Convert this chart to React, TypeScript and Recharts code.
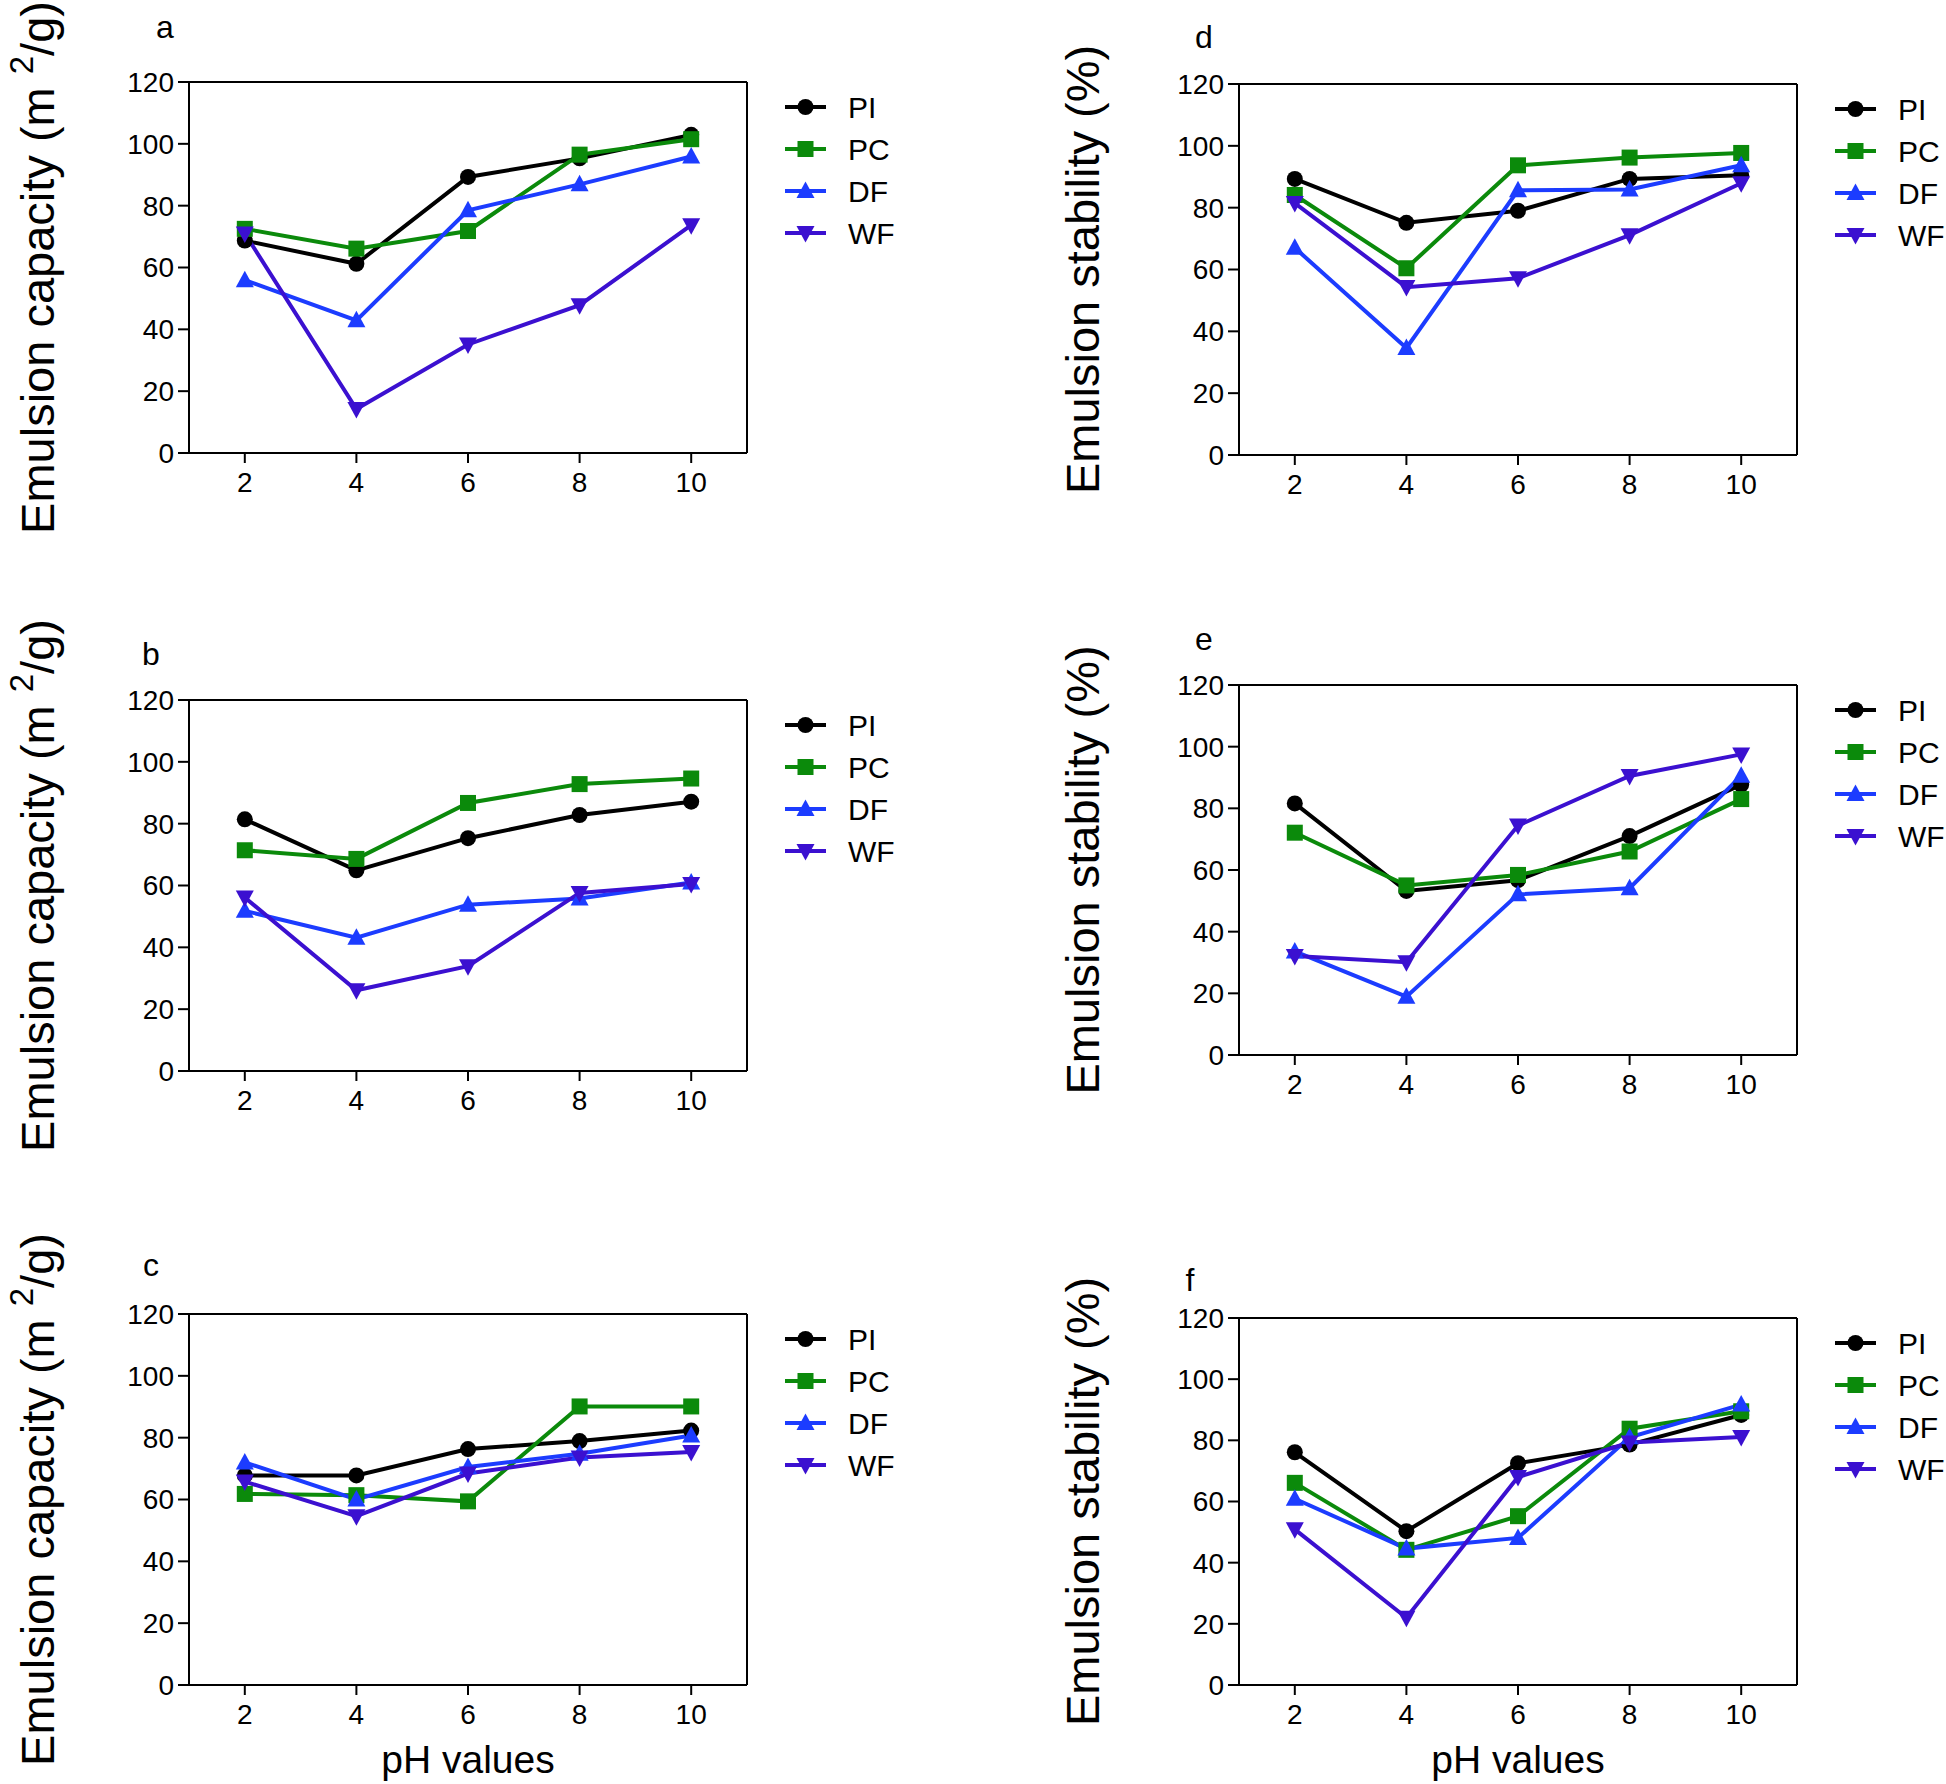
import React from "react";
import { LineChart, Line, XAxis, YAxis, ReferenceLine, Legend, Label } from "recharts";

const FONT = "'Liberation Sans', Arial, Helvetica, sans-serif";

const PH = [2, 4, 6, 8, 10];
const SERIES = ["PI", "PC", "DF", "WF"];
const COLORS: Record<string, string> = {
  PI: "#000000",
  PC: "#0b8a0b",
  DF: "#1c3cff",
  WF: "#3b10d0",
};
const SHAPES: Record<string, string> = { PI: "circle", PC: "square", DF: "up", WF: "down" };
const Y_TICKS = [0, 20, 40, 60, 80, 100, 120];

// emulsion capacity (m2/g)
const A_PI = [68.7, 61.2, 89.3, 95.3, 102.9];
const A_PC = [72.5, 66.1, 71.8, 96.5, 101.5];
const A_DF = [55.9, 42.9, 78.5, 86.9, 95.9];
const A_WF = [71.0, 14.2, 35.1, 47.8, 73.7];

const B_PI = [81.4, 64.9, 75.3, 82.8, 87.1];
const B_PC = [71.4, 68.6, 86.7, 92.8, 94.6];
const B_DF = [51.8, 43.1, 53.8, 55.8, 61.0];
const B_WF = [56.1, 26.1, 33.9, 57.6, 60.5];

const C_PI = [67.8, 67.8, 76.3, 78.9, 82.3];
const C_PC = [61.8, 61.4, 59.4, 90.1, 90.1];
const C_DF = [72.0, 60.0, 70.5, 74.8, 80.7];
const C_WF = [65.8, 54.6, 68.4, 73.6, 75.4];

// emulsion stability (%)
const D_PI = [89.3, 75.1, 79.0, 89.3, 90.5];
const D_PC = [84.1, 60.4, 93.7, 96.2, 97.7];
const D_DF = [67.0, 34.6, 85.6, 85.9, 93.7];
const D_WF = [81.5, 54.3, 57.2, 71.1, 87.9];

const E_PI = [81.6, 53.2, 56.7, 71.0, 87.7];
const E_PC = [72.1, 55.0, 58.4, 66.0, 83.0];
const E_DF = [33.6, 18.9, 52.1, 54.1, 90.6];
const E_WF = [32.1, 30.1, 74.4, 90.5, 97.5];

const F_PI = [76.1, 50.3, 72.5, 78.6, 88.3];
const F_PC = [66.1, 44.2, 55.2, 83.8, 89.5];
const F_DF = [60.9, 44.6, 48.1, 81.0, 91.7];
const F_WF = [50.9, 22.0, 68.0, 79.3, 81.1];

const makeRows = (pi: number[], pc: number[], df: number[], wf: number[]) =>
  PH.map((ph, i) => ({ ph, PI: pi[i], PC: pc[i], DF: df[i], WF: wf[i] }));

const PANELS = [
  { id: "a", kind: "cap", rows: makeRows(A_PI, A_PC, A_DF, A_WF), left: 0, top: 0, width: 950, plotH: 371, letter: [165, 27], titleX: 37, xTitle: false },
  { id: "b", kind: "cap", rows: makeRows(B_PI, B_PC, B_DF, B_WF), left: 0, top: 618, width: 950, plotH: 371, letter: [151, 36], titleX: 37, xTitle: false },
  { id: "c", kind: "cap", rows: makeRows(C_PI, C_PC, C_DF, C_WF), left: 0, top: 1232, width: 950, plotH: 371, letter: [151, 33], titleX: 37, xTitle: true },
  { id: "d", kind: "stab", rows: makeRows(D_PI, D_PC, D_DF, D_WF), left: 1050, top: 2, width: 896, plotH: 371, letter: [154, 35], titleX: 32, xTitle: false },
  { id: "e", kind: "stab", rows: makeRows(E_PI, E_PC, E_DF, E_WF), left: 1050, top: 603, width: 896, plotH: 370, letter: [154, 36], titleX: 32, xTitle: false },
  { id: "f", kind: "stab", rows: makeRows(F_PI, F_PC, F_DF, F_WF), left: 1050, top: 1236, width: 896, plotH: 367, letter: [140, 44], titleX: 32, xTitle: true },
];

const CHART_H = 552;
const TOP = 82;
const Y_AXIS_W = 189;
const PLOT_W = 558;
const LEGEND_W = 165;

function Marker({ shape, cx, cy, color }: { shape: string; cx: number; cy: number; color: string }) {
  if (shape === "circle") return <circle cx={cx} cy={cy} r={8} fill={color} />;
  if (shape === "square") return <rect x={cx - 8} y={cy - 8} width={16} height={16} fill={color} />;
  if (shape === "up")
    return <polygon points={`${cx},${cy - 9.5} ${cx - 9},${cy + 7} ${cx + 9},${cy + 7}`} fill={color} />;
  return <polygon points={`${cx},${cy + 9.5} ${cx - 9},${cy - 7} ${cx + 9},${cy - 7}`} fill={color} />;
}

const renderLegend = () => (
  <svg width={LEGEND_W} height={190} style={{ display: "block" }}>
    {SERIES.map((s, i) => {
      const y = 25 + 42 * i;
      return (
        <g key={s}>
          <line x1={0} x2={41} y1={y} y2={y} stroke={COLORS[s]} strokeWidth={4} />
          <Marker shape={SHAPES[s]} cx={20.5} cy={y} color={COLORS[s]} />
          <text x={63} y={y} dominantBaseline="central" fontSize={30} fontFamily={FONT} fill="#000">
            {s}
          </text>
        </g>
      );
    })}
  </svg>
);

function Panel({ p }: { p: (typeof PANELS)[number] }) {
  const bottom = CHART_H - TOP - p.plotH - 50;
  // the legend box width is added to the right offset by the chart itself
  const right = p.width - Y_AXIS_W - PLOT_W - LEGEND_W;

  const yTitle = (props: any) => {
    const vb = props.viewBox || { x: 0, y: TOP, width: Y_AXIS_W, height: p.plotH };
    const cx = vb.x + p.titleX;
    const cy = vb.y + vb.height / 2;
    return (
      <g>
        <text
          x={cx}
          y={cy}
          transform={`rotate(-90 ${cx} ${cy})`}
          textAnchor="middle"
          dominantBaseline="central"
          fontSize={47}
          fontFamily={FONT}
          fill="#000"
        >
          {p.kind === "cap" ? (
            <>
              Emulsion capacity (m <tspan dy={-16} fontSize={33}>2</tspan>
              <tspan dy={16}>/g)</tspan>
            </>
          ) : (
            "Emulsion stability (%)"
          )}
        </text>
        <text x={p.letter[0]} y={p.letter[1]} textAnchor="middle" dominantBaseline="central" fontSize={32} fontFamily={FONT} fill="#000">
          {p.id}
        </text>
      </g>
    );
  };

  const xTitle = (props: any) => {
    if (!p.xTitle) return null;
    const vb = props.viewBox;
    return (
      <text x={vb.x + vb.width / 2} y={vb.y + 88} textAnchor="middle" fontSize={39} fontFamily={FONT} fill="#000">
        pH values
      </text>
    );
  };

  return (
    <div style={{ position: "absolute", left: p.left, top: p.top }}>
      <LineChart width={p.width} height={CHART_H} data={p.rows} margin={{ top: TOP, right, bottom, left: 0 }}>
        <XAxis
          dataKey="ph"
          type="number"
          domain={[1, 11]}
          ticks={PH}
          interval={0}
          height={50}
          axisLine={{ stroke: "#000", strokeWidth: 2 }}
          tickLine={{ stroke: "#000", strokeWidth: 2 }}
          tickSize={10}
          tickMargin={9}
          tick={{ fill: "#000", fontSize: 28, fontFamily: FONT }}
          label={<Label content={xTitle} />}
        />
        <YAxis
          type="number"
          domain={[0, 120]}
          ticks={Y_TICKS}
          interval={0}
          width={Y_AXIS_W}
          axisLine={{ stroke: "#000", strokeWidth: 2 }}
          tickLine={{ stroke: "#000", strokeWidth: 2 }}
          tickSize={11}
          tickMargin={4}
          tick={{ fill: "#000", fontSize: 28, fontFamily: FONT }}
          label={<Label content={yTitle} />}
        />
        <ReferenceLine y={120} stroke="#000" strokeWidth={2} />
        <ReferenceLine x={11} stroke="#000" strokeWidth={2} />
        {SERIES.map((s) => (
          <Line
            key={s}
            type="linear"
            dataKey={s}
            name={s}
            stroke={COLORS[s]}
            strokeWidth={4}
            isAnimationActive={false}
            activeDot={false}
            dot={(d: any) => (
              <Marker key={`${s}-${d.index}`} shape={SHAPES[s]} cx={d.cx} cy={d.cy} color={COLORS[s]} />
            )}
          />
        ))}
        <Legend
          layout="vertical"
          verticalAlign="top"
          align="right"
          content={renderLegend}
          wrapperStyle={{ position: "absolute", left: 785, top: TOP, width: LEGEND_W, height: 190 }}
        />
      </LineChart>
    </div>
  );
}

export default function App() {
  return (
    <div
      style={{
        position: "absolute",
        left: 0,
        top: 0,
        width: 1946,
        height: 1784,
        background: "#fff",
        overflow: "hidden",
        fontFamily: FONT,
      }}
    >
      {PANELS.map((p) => (
        <Panel key={p.id} p={p} />
      ))}
    </div>
  );
}
